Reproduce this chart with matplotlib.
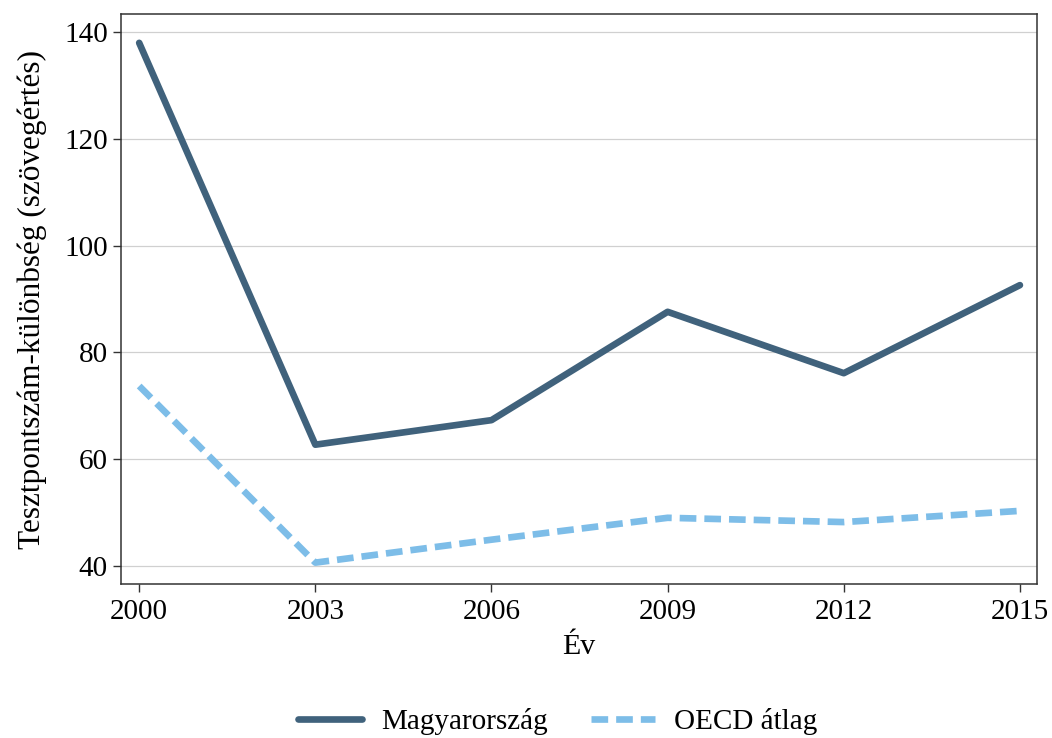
import matplotlib
matplotlib.use("Agg")
import matplotlib.pyplot as plt

years = [2000, 2003, 2006, 2009, 2012, 2015]
magyar = [138.0, 62.7, 67.3, 87.6, 76.1, 92.6]
oecd = [73.7, 40.6, 44.9, 49.0, 48.2, 50.3]
yticks = [40, 60, 80, 100, 120, 140]

plt.rcParams['font.family'] = ['Liberation Serif', 'DejaVu Serif']

fig = plt.figure(figsize=(10.52, 7.38), dpi=100)
ax = fig.add_axes([0.115, 0.2087, 0.8707, 0.7723])

ax.plot(years, magyar, color='#40627c', lw=4.8, solid_capstyle='round', label='Magyarország', zorder=3)
ax.plot(years, oecd, color='#7dbde8', lw=4.8, linestyle=(0, (2.5, 1.2)), label='OECD átlag', zorder=3)

ax.set_xlim(1999.69, 2015.29)
ax.set_ylim(36.6, 143.4)
ax.set_xticks(years)
ax.set_yticks(yticks)
ax.grid(axis='y', color='#d0d0d0', lw=0.9)
ax.set_axisbelow(True)
for s in ax.spines.values():
    s.set_color('#333333')
    s.set_linewidth(1.1)
ax.tick_params(axis='both', labelsize=21, length=6, width=1.0, color='#333333', direction='out')
ax.tick_params(axis='x', pad=5)
ax.set_xlabel('Év', fontsize=21.5, labelpad=6)
ax.set_ylabel('Tesztpontszám-különbség (szövegértés)', fontsize=22.5, labelpad=12)

fig.legend(loc='center', bbox_to_anchor=(0.53, 0.022), ncol=2, frameon=False, fontsize=21,
           handlelength=2.2, columnspacing=1.5, handletextpad=0.65)

fig.savefig('out.png', dpi=100)
